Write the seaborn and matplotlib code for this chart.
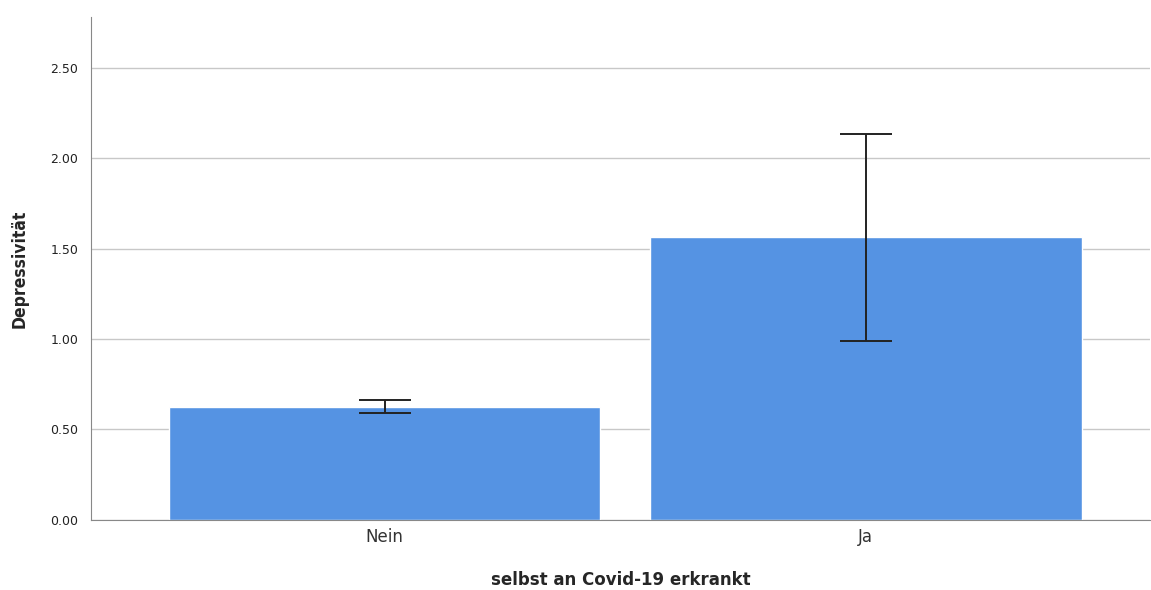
import numpy as np
import pandas as pd
import matplotlib
matplotlib.use('Agg')
import matplotlib.pyplot as plt
import seaborn as sns

# data
categories = ['Nein', 'Ja']
means = [0.625, 1.565]
ci_low = [0.592, 0.99]
ci_high = [0.664, 2.135]
yticks = [0.0, 0.5, 1.0, 1.5, 2.0, 2.5]

sns.set_style('white')
plt.rcParams['font.family'] = ['DejaVu Sans']

df = pd.DataFrame({'group': categories, 'value': means})

fig = plt.figure(figsize=(11.51, 5.90), dpi=100)
ax = fig.add_axes([0.079, 0.119, 0.92, 0.852])

sns.barplot(data=df, x='group', y='value', order=categories, color='#5593e3',
            saturation=1, width=0.896, errorbar=None, ax=ax, zorder=2)

# confidence intervals
yerr = np.array([np.array(means) - np.array(ci_low), np.array(ci_high) - np.array(means)])
ax.errorbar(x=np.arange(len(categories)), y=means, yerr=yerr, fmt='none',
            ecolor='#222222', elinewidth=1.4, capsize=19, capthick=1.4, zorder=3)

ax.set_xlim(-0.61, 1.59)
ax.set_ylim(0, 2.78)
ax.set_yticks(yticks)
ax.set_yticklabels([f'{t:.2f}' for t in yticks], fontsize=9, color='#222222')
ax.tick_params(axis='y', length=3, color='#888888', pad=6)
ax.tick_params(axis='x', length=0, labelsize=12, labelcolor='#333333', pad=6)

ax.yaxis.grid(True, color='#c8c8c8', linewidth=1, zorder=0)
ax.set_axisbelow(True)

sns.despine(ax=ax, top=True, right=True)
ax.spines['left'].set_color('#888888')
ax.spines['bottom'].set_color('#888888')

ax.set_ylabel('Depressivität', fontsize=12.5, fontweight='bold', labelpad=16,
              fontstretch='condensed')
ax.set_xlabel('selbst an Covid-19 erkrankt', fontsize=12, fontweight='bold', labelpad=18)

fig.savefig('out.png', dpi=100)
